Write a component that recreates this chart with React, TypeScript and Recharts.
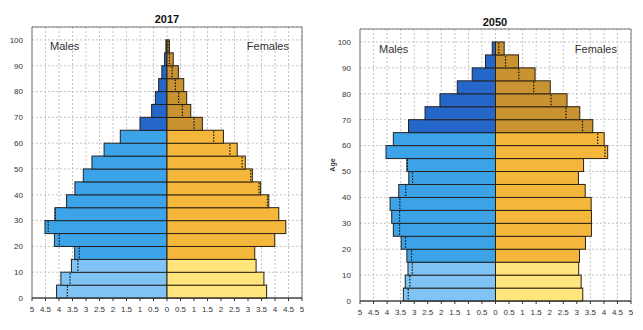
import React from 'react';
import { BarChart, Bar, XAxis, YAxis, CartesianGrid, ReferenceArea } from 'recharts';

const ageGroups = [
  '0-4', '5-9', '10-14', '15-19', '20-24', '25-29', '30-34', '35-39', '40-44', '45-49',
  '50-54', '55-59', '60-64', '65-69', '70-74', '75-79', '80-84', '85-89', '90-94', '95-99', '100+',
];
const ageStart = [0, 5, 10, 15, 20, 25, 30, 35, 40, 45, 50, 55, 60, 65, 70, 75, 80, 85, 90, 95, 100];

const males2017 = [4.09, 3.93, 3.54, 3.42, 4.17, 4.52, 4.15, 3.72, 3.41, 3.10, 2.78, 2.33, 1.73, 1.00, 0.57, 0.43, 0.31, 0.19, 0.09, 0.04];
const females2017 = [3.69, 3.59, 3.30, 3.25, 3.99, 4.40, 4.14, 3.77, 3.47, 3.16, 2.90, 2.60, 2.09, 1.31, 0.88, 0.73, 0.62, 0.42, 0.23, 0.09];

const males2050 = [3.40, 3.33, 3.23, 3.27, 3.48, 3.77, 3.83, 3.89, 3.57, 3.20, 3.27, 4.04, 3.77, 3.21, 2.60, 2.05, 1.41, 0.86, 0.37, 0.12];
const females2050 = [3.22, 3.16, 3.07, 3.10, 3.32, 3.54, 3.54, 3.53, 3.31, 3.06, 3.25, 4.14, 4.01, 3.59, 3.11, 2.64, 2.02, 1.46, 0.85, 0.32];

const ageTicks = [0, 10, 20, 30, 40, 50, 60, 70, 80, 90, 100];
const pctTicks = [-5, -4.5, -4, -3.5, -3, -2.5, -2, -1.5, -1, -0.5, 0, 0.5, 1, 1.5, 2, 2.5, 3, 3.5, 4, 4.5, 5];

const FONT = '"Liberation Sans", Arial, Helvetica, sans-serif';
const MALE_COLORS = ['#80C4F5', '#3CA3E8', '#2567C8'];
const FEMALE_COLORS = ['#FFE57C', '#F5B63C', '#C99332'];

function groupOf(i: number) {
  return i < 3 ? 0 : i < 13 ? 1 : 2;
}

function makeRows(m: number[], f: number[]) {
  return ageGroups.map((age, i) => ({
    age,
    start: ageStart[i],
    male: m[i] == null ? null : -m[i],
    female: f[i] == null ? null : f[i],
    m: m[i] == null ? null : m[i],
    f: f[i] == null ? null : f[i],
  }));
}

const rows2017 = makeRows(males2017, females2017);
const rows2050 = makeRows(males2050, females2050);

const MaleShape = (props: any) => {
  const { x, y, width, height, index, payload } = props;
  if (!payload || payload.m == null || !width || !height) return null;
  const left = Math.min(x, x + width);
  const w = Math.abs(width);
  const top = Math.min(y, y + height);
  const h = Math.abs(height);
  const center = left + w;
  const fill = MALE_COLORS[groupOf(index)];
  const showDot = payload.f != null && payload.f < payload.m;
  const dx = showDot ? center - (w * payload.f) / payload.m : 0;
  return (
    <g>
      <rect x={left} y={top} width={w} height={h} fill={fill} stroke="#222" strokeWidth={1} />
      {showDot && (
        <line x1={dx} x2={dx} y1={top + 1} y2={top + h - 1} stroke="#111" strokeWidth={1.2} strokeDasharray="1.5 1.5" />
      )}
    </g>
  );
};

const FemaleShape = (props: any) => {
  const { x, y, width, height, index, payload } = props;
  if (!payload || payload.f == null || !width || !height) return null;
  const left = Math.min(x, x + width);
  const w = Math.abs(width);
  const top = Math.min(y, y + height);
  const h = Math.abs(height);
  const center = left;
  const fill = FEMALE_COLORS[groupOf(index)];
  const showDot = payload.m != null && payload.m < payload.f;
  const dx = showDot ? center + (w * payload.m) / payload.f : 0;
  return (
    <g>
      <rect x={left} y={top} width={w} height={h} fill={fill} stroke="#2a2010" strokeWidth={1} />
      {showDot && (
        <line x1={dx} x2={dx} y1={top + 1} y2={top + h - 1} stroke="#111" strokeWidth={1.2} strokeDasharray="1.5 1.5" />
      )}
    </g>
  );
};

const tickStyle = { fontSize: 8, fill: '#333', fontFamily: FONT };

function Pyramid({ data, width, marginTop, marginRight, yWidth, xHeight }: any) {
  return (
    <BarChart
      width={width}
      height={330}
      data={data}
      layout="vertical"
      stackOffset="sign"
      barCategoryGap={0}
      barGap={0}
      margin={{ top: marginTop, right: marginRight, bottom: 0, left: 0 }}
    >
      <CartesianGrid yAxisId="age" stroke="#c4c4c4" strokeDasharray="2 2" />
      <XAxis
        type="number"
        domain={[-5, 5]}
        ticks={pctTicks}
        interval={0}
        allowDataOverflow
        tickFormatter={(v: number) => String(Math.abs(v))}
        height={xHeight}
        tick={tickStyle}
        tickSize={3}
        tickMargin={5}
        stroke="#333"
      />
      <YAxis
        yAxisId="age"
        type="number"
        dataKey="start"
        domain={[0, 105]}
        ticks={ageTicks}
        interval={0}
        allowDataOverflow
        reversed
        width={yWidth}
        tick={tickStyle}
        axisLine={false}
        tickLine={false}
        tickSize={4}
        tickMargin={5}
      />
      <YAxis yAxisId="cat" type="category" dataKey="age" reversed hide />
      <ReferenceArea yAxisId="age" x1={-5} x2={5} y1={0} y2={105} fill="none" stroke="#777" strokeWidth={1} />
      <Bar yAxisId="cat" dataKey="male" stackId="p" shape={<MaleShape />} isAnimationActive={false} />
      <Bar yAxisId="cat" dataKey="female" stackId="p" shape={<FemaleShape />} isAnimationActive={false} />
    </BarChart>
  );
}

const abs = (style: any) => ({ position: 'absolute' as const, fontFamily: FONT, whiteSpace: 'nowrap' as const, ...style });

export default function App() {
  return (
    <div style={{ position: 'absolute', left: 0, top: 0, width: 643, height: 330, background: '#fff', overflow: 'hidden' }}>
      <div style={{ position: 'absolute', left: 0, top: 0 }}>
        <Pyramid data={rows2017} width={320} marginTop={27} marginRight={18} yWidth={32} xHeight={32} />
      </div>
      <div style={{ position: 'absolute', left: 320, top: 0 }}>
        <Pyramid data={rows2050} width={323} marginTop={29} marginRight={12} yWidth={40} xHeight={29} />
      </div>

      <div style={abs({ left: 117, width: 100, top: 14, fontSize: 11, lineHeight: '11px', fontWeight: 'bold', textAlign: 'center', color: '#111' })}>2017</div>
      <div style={abs({ left: 445, width: 100, top: 17, fontSize: 11, lineHeight: '11px', fontWeight: 'bold', textAlign: 'center', color: '#111' })}>2050</div>

      <div style={abs({ left: 50, top: 41, fontSize: 11, lineHeight: '11px', color: '#333' })}>Males</div>
      <div style={abs({ left: 229, width: 60, top: 41, fontSize: 11, lineHeight: '11px', color: '#333', textAlign: 'right' })}>Females</div>
      <div style={abs({ left: 379, top: 44, fontSize: 11, lineHeight: '11px', color: '#333' })}>Males</div>
      <div style={abs({ left: 557, width: 60, top: 44, fontSize: 11, lineHeight: '11px', color: '#333', textAlign: 'right' })}>Females</div>

      <div style={abs({ left: 318, top: 160, width: 30, height: 10, fontSize: 7, lineHeight: '10px', fontWeight: 'bold', textAlign: 'center', color: '#333', transform: 'rotate(-90deg)' })}>Age</div>
    </div>
  );
}
